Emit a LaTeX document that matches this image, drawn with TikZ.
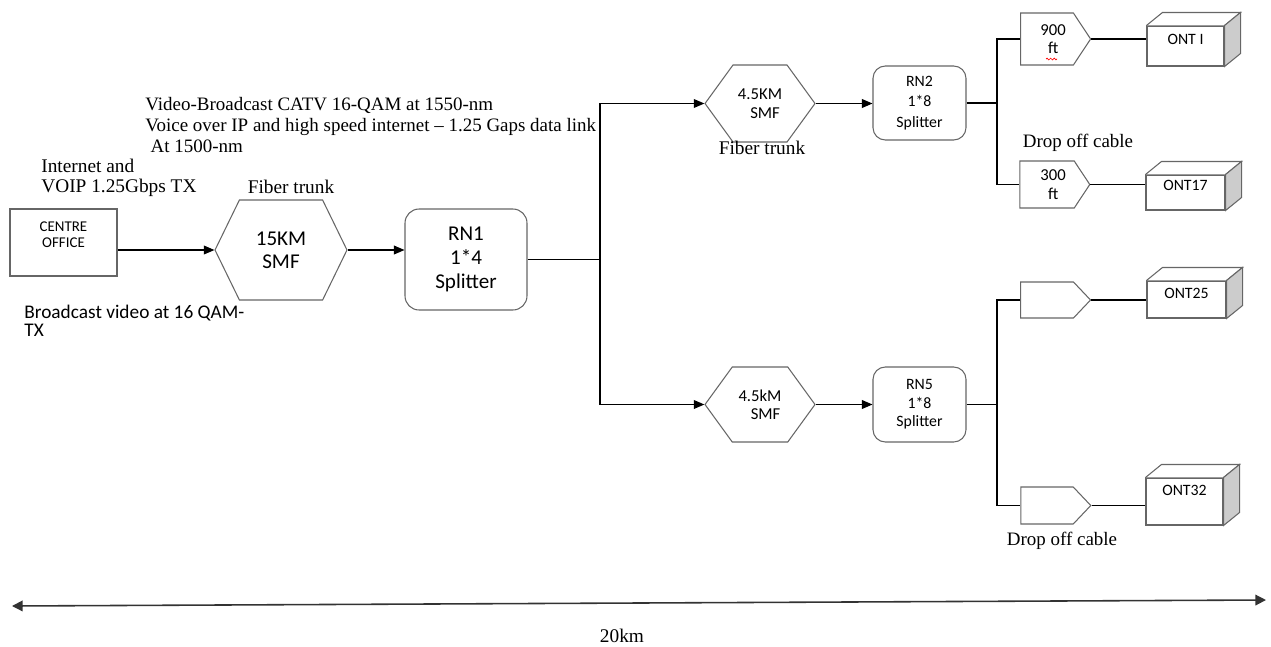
\documentclass[tikz,border=0pt]{standalone}
\usepackage{fontspec}
\setmainfont{Liberation Serif}
\setsansfont{Carlito}
\usetikzlibrary{positioning,arrows.meta,calc,shapes.symbols,decorations.pathmorphing}

\begin{document}
\begin{tikzpicture}[
    x=0.02cm, y=-0.02cm,
    outline/.style={draw=black!60,line width=0.6pt},
    trunkhex/.style={outline,signal,signal to=east and west,inner sep=0pt,align=left},
    dropbox/.style={outline,signal,signal to=east,minimum width=1.4cm,inner sep=0pt,
                    font=\sffamily\fontsize{9.5}{10.5}\selectfont,align=center},
    splitter/.style={outline,rectangle,align=center,inner sep=0pt},
    ont/.style={outline,rectangle,inner sep=0pt,font=\sffamily\fontsize{9}{11}\selectfont},
    arrow/.style={-{Triangle[length=6pt,width=5pt]},line width=0.6pt},
    wire/.style={line width=0.6pt},
    serifnote/.style={inner sep=0pt,align=left,font=\fontsize{11}{11.5}\selectfont}
]
\useasboundingbox (0,0) rectangle (1271,646);

% head end
\node[outline,minimum width=2.14cm,minimum height=1.34cm,inner sep=0pt,align=center,
      font=\sffamily\fontsize{8.5}{9.6}\selectfont,text depth=9pt] (office) at (63.5,242.5) {CENTRE\\OFFICE};
\node[trunkhex,signal pointer angle=128,minimum width=2.64cm,minimum height=2cm,
      font=\sffamily\fontsize{12}{13}\selectfont,align=center] (trunk) at (281,250) {15KM\\SMF};
\node[splitter,rounded corners=8pt,minimum width=2.44cm,minimum height=2.02cm,
      font=\sffamily\fontsize{12}{13.5}\selectfont] (rn1) at (466,259.5) {RN1\\1*4\\Splitter};

\draw[arrow] (trunk.west -| office.east) -- (trunk.west);
\draw[arrow] (trunk.east) -- (trunk.east -| rn1.west);

% first split
\coordinate (split1) at (600,259.5);
\node[trunkhex,signal pointer angle=108,minimum width=2.2cm,minimum height=1.54cm,
      font=\sffamily\fontsize{9.5}{10.5}\selectfont] (trunkA) at (760,103.5) {4.5KM\\\hspace*{7pt}SMF};
\node[trunkhex,signal pointer angle=108,minimum width=2.2cm,minimum height=1.5cm,
      font=\sffamily\fontsize{9.5}{10.5}\selectfont] (trunkB) at (760,404.5) {4.5kM\\\hspace*{7pt}SMF};
\node[splitter,rounded corners=7pt,minimum width=1.86cm,minimum height=1.48cm,
      font=\sffamily\fontsize{9}{11.6}\selectfont] (rn2) at (919.5,103) {RN2\\1*8\\Splitter};
\node[splitter,rounded corners=7pt,minimum width=1.86cm,minimum height=1.5cm,
      font=\sffamily\fontsize{9}{10.5}\selectfont] (rn5) at (919.5,404.5) {RN5\\1*8\\Splitter};

\draw[wire] (rn1.east) -- (split1);
\draw[arrow] (split1) |- (trunkA.west);
\draw[arrow] (split1) |- (trunkB.west);
\draw[arrow] (trunkA.east) -- (trunkA.east -| rn2.west);
\draw[arrow] (trunkB.east) -- (trunkB.east -| rn5.west);

% drop cables
\coordinate (split2) at (997,103);
\coordinate (split5) at (997,404.5);
\node[dropbox,signal pointer angle=113,minimum height=1.04cm] (drop900) at (1047,39) {\hspace*{7pt}900\\\hspace*{7pt}ft};
\node[dropbox,signal pointer angle=113,minimum height=0.94cm] (drop300) at (1047,184.5) {\hspace*{7pt}300\\\hspace*{7pt}ft};
\node[dropbox,signal pointer angle=93,minimum height=0.72cm] (dropA) at (1047,300) {};
\node[dropbox,signal pointer angle=93,minimum height=0.74cm] (dropB) at (1047,505.5) {};
\draw[red,decorate,decoration={snake,amplitude=0.5pt,segment length=2pt}] (1046,59) -- (1057,59);

\draw[wire] (rn2.east) -- (split2);
\draw[wire] (split2) |- (drop900.west);
\draw[wire] (split2) |- (drop300.west);
\draw[wire] (rn5.east) -- (split5);
\draw[wire] (split5) |- (dropA.west);
\draw[wire] (split5) |- (dropB.west);

% subscriber units
\node[ont,minimum width=1.54cm,minimum height=0.8cm,text depth=7pt] (ont1) at (1185.5,46) {ONT I};
\node[ont,minimum width=1.58cm,minimum height=0.7cm,text depth=8pt] (ont17) at (1185.5,192.5) {ONT17};
\node[ont,minimum width=1.58cm,minimum height=0.74cm,text depth=7pt] (ont25) at (1186.5,299.5) {ONT25};
\node[ont,minimum width=1.54cm,minimum height=0.94cm,text depth=13pt] (ont32) at (1184.5,501.5) {ONT32};

\foreach \o in {ont1,ont17,ont25,ont32}{
  \draw[outline,fill=white] (\o.north west) -- ++(16,-13) -- ($(\o.north east)+(16,-13)$) -- (\o.north east);
  \draw[outline,fill=gray!40] (\o.north east) -- ++(16,-13) -- ($(\o.south east)+(16,-13)$) -- (\o.south east) -- cycle;
}

\draw[wire] (drop900.east) -- (drop900.east -| ont1.west);
\draw[wire] (drop300.east) -- (drop300.east -| ont17.west);
\draw[wire] (dropA.east) -- (dropA.east -| ont25.west);
\draw[wire] (dropB.east) -- (dropB.east -| ont32.west);

% notes
\node[serifnote,anchor=north west,font=\fontsize{10.8}{12}\selectfont] (wavelengths) at (145,97)
  {Video-Broadcast CATV 16-QAM at 1550-nm\\Voice over IP and high speed internet -- 1.25 Gaps data link\\\hspace*{3pt}At 1500-nm};
\node[serifnote,anchor=north west] (voiptx) at (41,159) {Internet and\\VOIP 1.25Gbps TX};
\node[serifnote,anchor=north west,font=\sffamily\fontsize{11}{10.3}\selectfont] (videotx) at (24,305) {Broadcast video at 16 QAM-\\TX};
\node[serifnote] (trunklbl) at (291,187) {Fiber trunk};
\node[serifnote] (trunkAlbl) at (762,148) {Fiber trunk};
\node[serifnote,font=\fontsize{10.8}{12}\selectfont] (droplblA) at (1078,143) {Drop off cable};
\node[serifnote,font=\fontsize{10.8}{12}\selectfont] (droplblB) at (1062,541) {Drop off cable};

% span
\coordinate (spanW) at (12,606);
\coordinate (spanE) at (1266,600);
\draw[{Triangle[length=6pt,width=6pt]}-{Triangle[length=6pt,width=6pt]},line width=0.9pt,black!80] (spanW) -- (spanE);
\node[serifnote] (spanlbl) at (622,636) {20km};
\end{tikzpicture}
\end{document}
